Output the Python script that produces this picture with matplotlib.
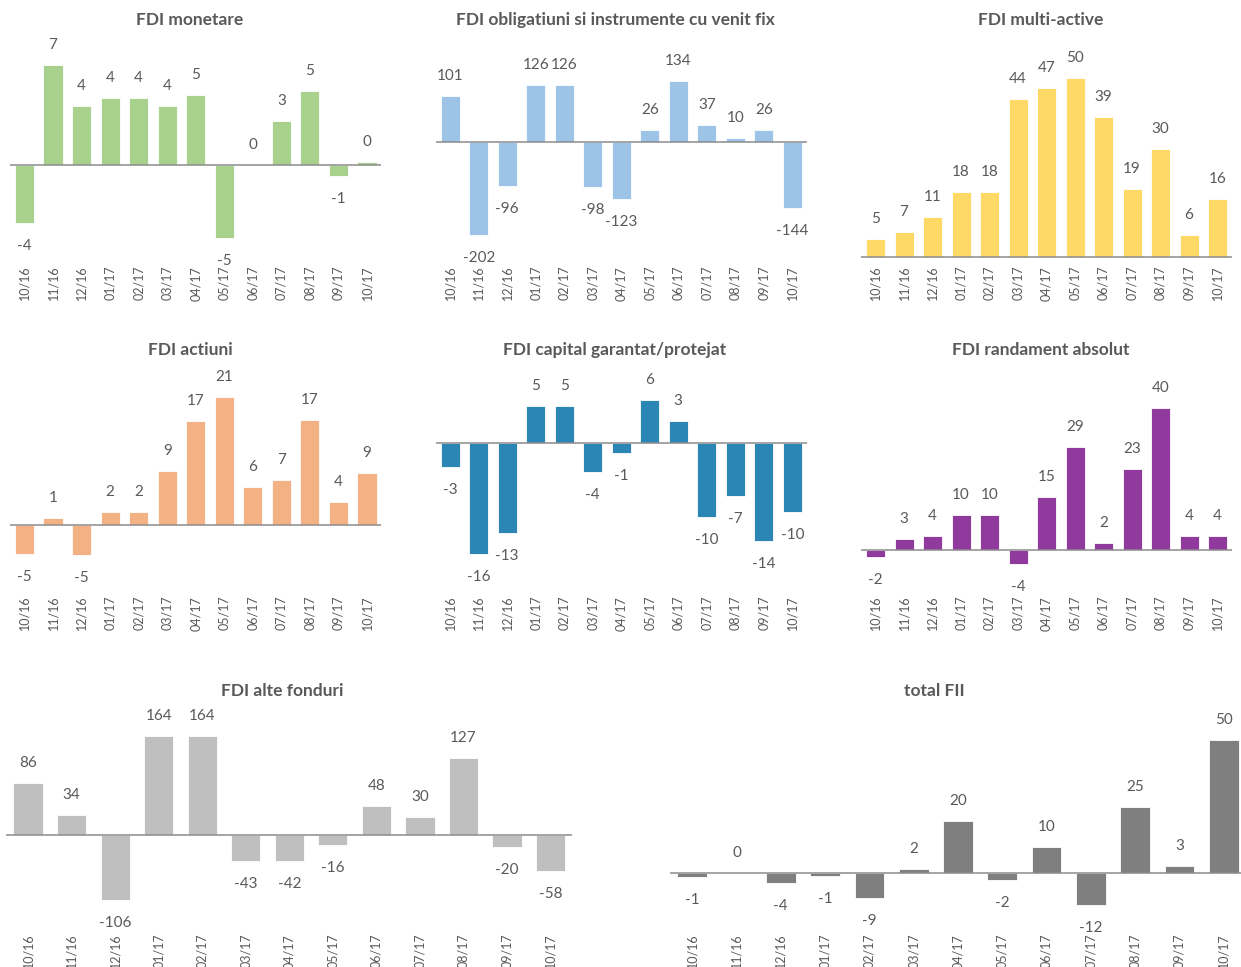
import matplotlib
matplotlib.use("Agg")
import matplotlib.pyplot as plt
import numpy as np

plt.rcParams['font.family'] = ['Lato', 'DejaVu Sans']

months = ["10/16", "11/16", "12/16", "01/17", "02/17", "03/17", "04/17",
          "05/17", "06/17", "07/17", "08/17", "09/17", "10/17"]

fdi_monetare = [-3.8, 6.6, 3.9, 4.4, 4.4, 3.9, 4.6, -4.8, 0.0, 2.9, 4.9, -0.7, 0.2]
fdi_obligatiuni = [101, -202, -96, 126, 126, -98, -123, 26, 134, 37, 10, 26, -144]
fdi_multi_active = [5, 7, 11, 18, 18, 44, 47, 50, 39, 19, 30, 6, 16]
fdi_actiuni = [-4.7, 1.1, -4.9, 2.2, 2.2, 8.8, 17.1, 21.0, 6.3, 7.3, 17.2, 3.7, 8.6]
fdi_capital = [-3.4, -15.6, -12.6, 5.3, 5.3, -4.0, -1.4, 6.1, 3.1, -10.4, -7.4, -13.7, -9.7]
fdi_randament = [-2, 3, 4, 10, 10, -4, 15, 29, 2, 23, 40, 4, 4]
fdi_alte = [86, 34, -106, 164, 164, -43, -42, -16, 48, 30, 127, -20, -58]
total_fii = [-1.4, 0.0, -3.6, -1.0, -9.4, 1.6, 19.6, -2.4, 10.0, -12.0, 24.8, 2.6, 50.0]

titles = ["FDI monetare", "FDI obligatiuni si instrumente cu venit fix", "FDI multi-active",
          "FDI actiuni", "FDI capital garantat/protejat", "FDI randament absolut",
          "FDI alte fonduri", "total FII"]
series = [fdi_monetare, fdi_obligatiuni, fdi_multi_active, fdi_actiuni,
          fdi_capital, fdi_randament, fdi_alte, total_fii]
colors = ["#A9D18E", "#9DC3E6", "#FFD966", "#F4B183",
          "#2B86B6", "#913A9E", "#BFBFBF", "#7F7F7F"]

W, H = 1241, 967
fig = plt.figure(figsize=(W / 100, H / 100), dpi=100)

# layout in pixels: x_left, x_right, zero_y, px per unit, top_y, bottom_y, title_x, title_y
layout = [
    (10.2, 381.3, 165.0, 15.2, 40, 263, 190, 20),
    (436.0, 806.5, 142.3, 0.457, 40, 263, 615, 20),
    (861.3, 1231.8, 256.7, 3.58, 40, 263, 1041, 20),
    (10.2, 381.3, 525.0, 6.1, 365, 593, 190, 350),
    (436.0, 806.5, 443.3, 7.1, 365, 593, 615, 350),
    (861.3, 1231.8, 550.0, 3.54, 365, 593, 1041, 350),
    (6.3, 572.3, 835.3, 0.607, 705, 931, 282, 691),
    (670.0, 1246.0, 873.3, 2.67, 705, 931, 934, 691),
]

text_color = "#595959"
px2pt = 72 / 100

for title, vals, col, (xl, xr, zy, s, ty, by, tx, tyy) in zip(titles, series, colors, layout):
    ax = fig.add_axes([xl / W, 1 - by / H, (xr - xl) / W, (by - ty) / H])
    x = np.arange(len(months))
    ax.bar(x, vals, width=0.67, color=col, edgecolor="white", linewidth=0.6, zorder=2)
    ax.axhline(0, color="#8C8C8C", linewidth=1.1, zorder=3)
    ax.set_xlim(-0.5, len(months) - 0.5)
    ax.set_ylim(-(by - zy) / s, (zy - ty) / s)
    for sp in ax.spines.values():
        sp.set_visible(False)
    ax.set_yticks([])
    ax.set_xticks(x)
    ax.set_xticklabels(months, rotation=90, fontsize=9, color=text_color)
    ax.tick_params(axis="x", length=0, pad=2)
    for xi, v in zip(x, vals):
        off = 20 * px2pt if v >= 0 else -23 * px2pt
        ax.annotate(f"{v:.0f}", (xi, v), xytext=(0, off), textcoords="offset points",
                    ha="center", va="center", fontsize=11, color=text_color,
                    annotation_clip=False)
    fig.text(tx / W, 1 - tyy / H, title, ha="center", va="center",
             fontsize=12.5, fontweight="bold", color=text_color)

fig.savefig("out.png", dpi=100)
